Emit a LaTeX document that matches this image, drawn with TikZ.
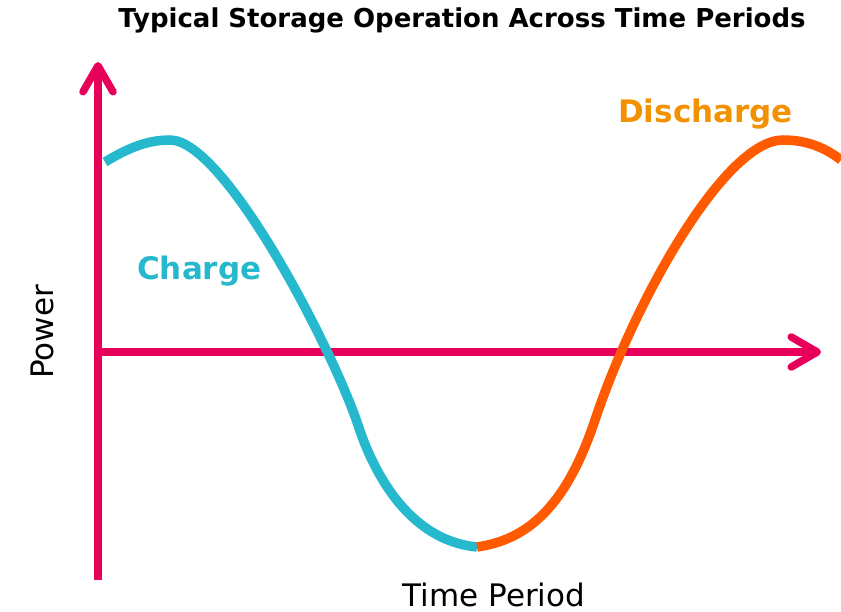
\documentclass[tikz,border=0pt]{standalone}
\usepackage{fontspec}
\setmainfont{DejaVu Sans}
\usepackage{tikz}
\usetikzlibrary{arrows.meta}
\definecolor{axispink}{RGB}{230,0,90}
\definecolor{chargecyan}{RGB}{38,185,206}
\definecolor{dischargeline}{RGB}{255,90,0}
\definecolor{dischargetext}{RGB}{243,146,0}

\begin{document}
\begin{tikzpicture}[x=1pt,y=-1pt,>={Straight Barb[length=26pt,width=30pt,round]},
      axis/.style={draw=axispink,line width=7.5pt,->},
      wave/.style={line width=9.5pt},
      lbl/.style={font=\fontsize{31}{36}\selectfont\bfseries,inner sep=0pt,anchor=base west},
      axlbl/.style={font=\fontsize{31}{36}\selectfont,inner sep=0pt}]
    \useasboundingbox (0,0) rectangle (841,612);
    \coordinate (origin) at (98,352);
    \coordinate (ytop)   at (98,62);
    \coordinate (ybot)   at (98,580);
    \coordinate (xend)   at (821,352);
    \draw[axis] (ybot) -- (ytop);
    \draw[axis] (origin) -- (xend);
    \coordinate (start)  at (105,162);
    \coordinate (peakL)  at (170,140);
    \coordinate (bendL)  at (358,425);
    \coordinate (trough) at (477,547);
    \coordinate (bendR)  at (595,420);
    \coordinate (peakR)  at (783,140);
    \coordinate (stop)   at (841,160);
    \draw[wave,chargecyan] (start) .. controls (125,150) and (145,140) .. (peakL)
      .. controls (225,140) and (333,350) .. (bendL)
      .. controls (371,465) and (405,540) .. (trough);
    \draw[wave,dischargeline] (trough) .. controls (525,540) and (565,510) .. (bendR)
      .. controls (635,300) and (725,140) .. (peakR)
      .. controls (810,140) and (828,150) .. (stop);
    \node[font=\fontsize{26}{30}\selectfont\bfseries,inner sep=0pt,anchor=base] (title) at (462,28)
      {Typical Storage Operation Across Time Periods};
    \node[axlbl,rotate=90] (ylabel) at (42,332) {Power};
    \node[axlbl,anchor=base] (xlabel) at (494,606) {Time Period};
    \node[lbl,text=chargecyan] (charge) at (137,280) {Charge};
    \node[lbl,text=dischargetext] (discharge) at (618,123) {Discharge};
  \end{tikzpicture}
\end{document}
